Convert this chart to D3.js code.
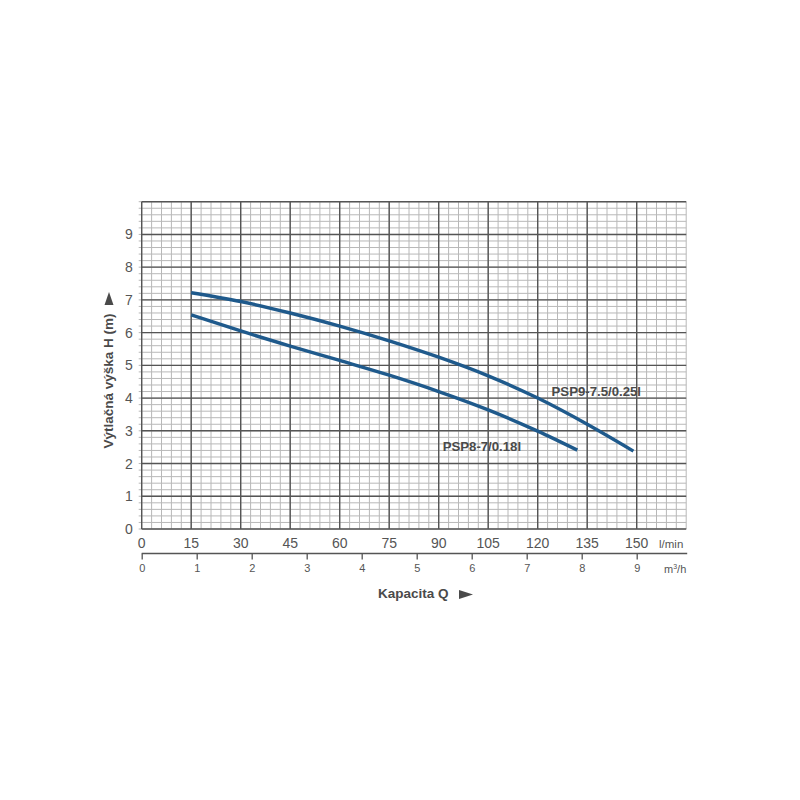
<!DOCTYPE html>
<html><head><meta charset="utf-8">
<script src="https://cdn.jsdelivr.net/npm/d3@7"></script>
<style>body{margin:0;background:#fff}svg{display:block}</style>
</head><body>
<script>
// Data
const lminTicks = [0,15,30,45,60,75,90,105,120,135,150];
const m3hTicks = [0,1,2,3,4,5,6,7,8,9];
const hTicks = [0,1,2,3,4,5,6,7,8,9];
const psp9Q = [15,30,45,60,75,90,105,120,135,149];
const psp9H = [7.22,6.95,6.60,6.20,5.75,5.25,4.68,4.00,3.20,2.38];
const psp8Q = [15,30,45,60,75,90,105,120,132];
const psp8H = [6.54,6.05,5.59,5.15,4.70,4.20,3.64,2.99,2.41];
const seriesNames = ["PSP9-7.5/0.25l","PSP8-7/0.18l"];
const labelPos = [[124.2,4.06],[91.2,2.38]];

const W=800,H=800;
const svg=d3.select("body").append("svg").attr("width",W).attr("height",H);
const x=d3.scaleLinear().domain([0,165]).range([141.7,686.2]);
const y=d3.scaleLinear().domain([0,10]).range([529,201.7]);
const m3=d3.scaleLinear().domain([0,1]).range([x(0),x(1000/60)]);
const font="'Liberation Sans', Arial, sans-serif";

const g=svg.append("g");
// minor grid
const minorX=d3.range(0,165.01,3), minorY=d3.range(0,10.01,0.2);
g.selectAll(".mx").data(minorX).join("line")
  .attr("x1",d=>x(d)).attr("x2",d=>x(d)).attr("y1",y(0)).attr("y2",y(10))
  .attr("stroke","#b8b8b8").attr("stroke-width",1);
g.selectAll(".my").data(minorY).join("line")
  .attr("x1",x(0)-3).attr("x2",x(165)).attr("y1",d=>y(d)).attr("y2",d=>y(d))
  .attr("stroke","#b8b8b8").attr("stroke-width",1);
// major grid
g.selectAll(".Mx").data(d3.range(0,151,15)).join("line")
  .attr("x1",d=>x(d)).attr("x2",d=>x(d)).attr("y1",y(0)).attr("y2",y(10))
  .attr("stroke","#555").attr("stroke-width",1.4);
g.selectAll(".My").data(d3.range(0,10.01,1)).join("line")
  .attr("x1",x(0)).attr("x2",x(165)).attr("y1",d=>y(d)).attr("y2",d=>y(d))
  .attr("stroke","#555").attr("stroke-width",1.4);

// y tick labels
g.selectAll(".yl").data(hTicks).join("text")
  .attr("x",x(0)-9).attr("y",d=>y(d)).attr("dy","0.36em")
  .attr("text-anchor","end").attr("font-family",font).attr("font-size",14)
  .attr("fill","#555").text(d=>d);
// l/min labels
g.selectAll(".xl").data(lminTicks).join("text")
  .attr("x",d=>x(d)).attr("y",548).attr("text-anchor","middle")
  .attr("font-family",font).attr("font-size",14).attr("fill","#555").text(d=>d);
g.append("text").attr("x",659).attr("y",548).attr("font-family",font).attr("font-size",11.5)
  .attr("fill","#555").text("l/min");
// m3/h axis
const ax=d3.axisBottom(m3).tickValues(m3hTicks).tickSize(6).tickPadding(5).tickFormat(d3.format("d"));
const axg=svg.append("g").attr("transform","translate(0,553.5)").call(ax);
axg.select(".domain").attr("d",`M${x(0)},0H${x(165)+1}`).attr("stroke","#555").attr("stroke-width",1.3);
axg.selectAll(".tick line").attr("stroke","#555").attr("stroke-width",1.3);
axg.selectAll(".tick text").attr("font-family",font).attr("font-size",11).attr("fill","#555");
const mt=svg.append("text").attr("x",664).attr("y",573).attr("font-family",font).attr("font-size",11).attr("fill","#555");
mt.append("tspan").text("m");
mt.append("tspan").attr("font-size",7).attr("dy",-4).text("3");
mt.append("tspan").attr("dy",4).text("/h");

// curves
const line=d3.line().x(d=>x(d[0])).y(d=>y(d[1])).curve(d3.curveMonotoneX);
const series=[d3.zip(psp9Q,psp9H),d3.zip(psp8Q,psp8H)];
svg.selectAll(".curve").data(series).join("path")
  .attr("d",line).attr("fill","none").attr("stroke","#1f5a8c")
  .attr("stroke-width",3.4).attr("stroke-linecap","butt");
svg.selectAll(".lab").data(seriesNames).join("text")
  .attr("x",(d,i)=>x(labelPos[i][0])).attr("y",(d,i)=>y(labelPos[i][1]))
  .attr("font-family",font).attr("font-size",13.2).attr("font-weight","bold")
  .attr("fill","#4a4a4a").text(d=>d);

// y title
svg.append("text").attr("transform","translate(113,381) rotate(-90)")
  .attr("text-anchor","middle").attr("font-family",font).attr("font-size",13.5)
  .attr("font-weight","bold").attr("fill","#4a4a4a").text("Výtlačná výška H (m)");
svg.append("path").attr("d","M109,292L113.5,305L104.5,305Z").attr("fill","#4a4a4a");
// x title
svg.append("text").attr("x",378).attr("y",598).attr("font-family",font).attr("font-size",13.5)
  .attr("font-weight","bold").attr("fill","#4a4a4a").text("Kapacita Q");
svg.append("path").attr("d","M459,590L473,594.5L459,599Z").attr("fill","#4a4a4a");
</script>
</body></html>
